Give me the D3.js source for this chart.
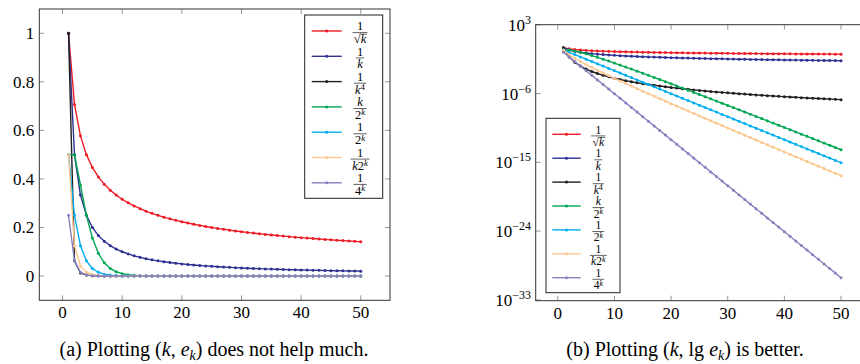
<!DOCTYPE html>
<html>
<head>
<meta charset="utf-8">
<script src="https://cdn.jsdelivr.net/npm/d3@7"></script>
<style>
  body { margin: 0; background: #fff; }
</style>
</head>
<body>
<div id="chart"></div>
<script>
// x values
const kValues = [1,2,3,4,5,6,7,8,9,10,11,12,13,14,15,16,17,18,19,20,21,22,23,24,25,
  26,27,28,29,30,31,32,33,34,35,36,37,38,39,40,41,42,43,44,45,46,47,48,49,50];

// series values
const invSqrtK = [1,0.7071,0.5774,0.5,0.4472,0.4082,0.378,0.3536,0.3333,0.3162,
  0.3015,0.2887,0.2774,0.2673,0.2582,0.25,0.2425,0.2357,0.2294,0.2236,
  0.2182,0.2132,0.2085,0.2041,0.2,0.1961,0.1925,0.189,0.1857,0.1826,
  0.1796,0.1768,0.1741,0.1715,0.169,0.1667,0.1644,0.1622,0.1601,0.1581,
  0.1562,0.1543,0.1525,0.1508,0.1491,0.1474,0.1459,0.1443,0.1429,0.1414];
const invK = [1,0.5,0.3333,0.25,0.2,0.1667,0.1429,0.125,0.1111,0.1,
  0.0909,0.0833,0.0769,0.0714,0.0667,0.0625,0.0588,0.0556,0.0526,0.05,
  0.0476,0.0455,0.0435,0.0417,0.04,0.0385,0.037,0.0357,0.0345,0.0333,
  0.0323,0.0313,0.0303,0.0294,0.0286,0.0278,0.027,0.0263,0.0256,0.025,
  0.0244,0.0238,0.0233,0.0227,0.0222,0.0217,0.0213,0.0208,0.0204,0.02];
const invK4 = [1,0.0625,0.012346,3.906e-3,1.6e-3,7.716e-4,4.165e-4,2.441e-4,1.524e-4,1e-4,
  6.83e-5,4.823e-5,3.501e-5,2.603e-5,1.975e-5,1.526e-5,1.197e-5,9.526e-6,7.673e-6,6.25e-6,
  5.142e-6,4.269e-6,3.573e-6,3.014e-6,2.56e-6,2.188e-6,1.882e-6,1.627e-6,1.414e-6,1.235e-6,
  1.083e-6,9.537e-7,8.432e-7,7.483e-7,6.664e-7,5.954e-7,5.336e-7,4.796e-7,4.323e-7,3.906e-7,
  3.539e-7,3.214e-7,2.925e-7,2.668e-7,2.439e-7,2.233e-7,2.049e-7,1.884e-7,1.735e-7,1.6e-7];
const kOver2K = [0.5,0.5,0.375,0.25,0.15625,0.09375,0.05469,0.03125,0.017578,9.766e-3,
  5.371e-3,2.93e-3,1.587e-3,8.545e-4,4.578e-4,2.441e-4,1.297e-4,6.866e-5,3.624e-5,1.907e-5,
  1.001e-5,5.245e-6,2.742e-6,1.431e-6,7.451e-7,3.874e-7,2.012e-7,1.043e-7,5.402e-8,2.794e-8,
  1.444e-8,7.451e-9,3.842e-9,1.979e-9,1.019e-9,5.239e-10,2.692e-10,1.382e-10,7.094e-11,3.638e-11,
  1.864e-11,9.55e-12,4.889e-12,2.501e-12,1.279e-12,6.537e-13,3.34e-13,1.705e-13,8.704e-14,4.441e-14];
const inv2K = [0.5,0.25,0.125,0.0625,0.03125,0.015625,7.8125e-3,3.906e-3,1.953e-3,9.766e-4,
  4.883e-4,2.441e-4,1.221e-4,6.104e-5,3.052e-5,1.526e-5,7.629e-6,3.815e-6,1.907e-6,9.537e-7,
  4.768e-7,2.384e-7,1.192e-7,5.96e-8,2.98e-8,1.49e-8,7.451e-9,3.725e-9,1.863e-9,9.313e-10,
  4.657e-10,2.328e-10,1.164e-10,5.821e-11,2.91e-11,1.455e-11,7.276e-12,3.638e-12,1.819e-12,9.095e-13,
  4.547e-13,2.274e-13,1.137e-13,5.684e-14,2.842e-14,1.421e-14,7.105e-15,3.553e-15,1.776e-15,8.882e-16];
const invK2K = [0.5,0.125,0.041667,0.015625,6.25e-3,2.604e-3,1.116e-3,4.883e-4,2.17e-4,9.766e-5,
  4.439e-5,2.035e-5,9.39e-6,4.36e-6,2.035e-6,9.537e-7,4.488e-7,2.119e-7,1.004e-7,4.768e-8,
  2.271e-8,1.084e-8,5.183e-9,2.483e-9,1.192e-9,5.731e-10,2.76e-10,1.33e-10,6.423e-11,3.104e-11,
  1.502e-11,7.276e-12,3.527e-12,1.712e-12,8.316e-13,4.043e-13,1.966e-13,9.573e-14,4.664e-14,2.274e-14,
  1.109e-14,5.413e-15,2.644e-15,1.292e-15,6.316e-16,3.089e-16,1.512e-16,7.401e-17,3.625e-17,1.776e-17];
const inv4K = [0.25,0.0625,0.015625,3.906e-3,9.766e-4,2.441e-4,6.104e-5,1.526e-5,3.815e-6,9.537e-7,
  2.384e-7,5.96e-8,1.49e-8,3.725e-9,9.313e-10,2.328e-10,5.821e-11,1.455e-11,3.638e-12,9.095e-13,
  2.274e-13,5.684e-14,1.421e-14,3.553e-15,8.882e-16,2.22e-16,5.551e-17,1.388e-17,3.469e-18,8.674e-19,
  2.168e-19,5.421e-20,1.355e-20,3.388e-21,8.47e-22,2.118e-22,5.294e-23,1.323e-23,3.309e-24,8.272e-25,
  2.068e-25,5.17e-26,1.293e-26,3.231e-27,8.078e-28,2.019e-28,5.049e-29,1.262e-29,3.155e-30,7.889e-31];

const seriesValues = [invSqrtK, invK, invK4, kOver2K, inv2K, invK2K, inv4K];
const seriesColors = ["#ed1c24", "#2e3192", "#231f20", "#00a651", "#00aeef", "#fcc68e", "#8781bd"];

// legend labels: numerator and denominator parts
const labelNum = ["1", "1", "1", "k", "1", "1", "1"];
const labelDen = [
  [{t: "√"}, {t: "k", it: true, over: true}],
  [{t: "k", it: true}],
  [{t: "k", it: true}, {t: "4", sup: true}],
  [{t: "2"}, {t: "k", it: true, sup: true}],
  [{t: "2"}, {t: "k", it: true, sup: true}],
  [{t: "k", it: true}, {t: "2"}, {t: "k", it: true, sup: true}],
  [{t: "4"}, {t: "k", it: true, sup: true}]
];
const numItalic = [false, false, false, true, false, false, false];

// tick labels
const linXTicks = [0, 10, 20, 30, 40, 50];
const linYTicks = [0, 0.2, 0.4, 0.6, 0.8, 1];
const logYExp = [3, -6, -15, -24, -33];

var FONT = "'Liberation Serif', 'DejaVu Serif', 'Noto Serif', 'Times New Roman', Times, serif";

var width = 860, height = 364;
var svg = d3.select("#chart").append("svg")
    .attr("width", width)
    .attr("height", height)
    .attr("font-family", FONT);

function drawPanel(p) {
    var g = svg.append("g");
    var x = p.x, y = p.y;
    var x0 = x.range()[0], x1 = x.range()[1];
    var yb = y.range()[0], yt = y.range()[1];
    var tl = 5;

    // ticks on all four sides
    linXTicks.forEach(function (t) {
        g.append("line").attr("x1", x(t)).attr("x2", x(t)).attr("y1", yb).attr("y2", yb - tl)
            .attr("stroke", "#999").attr("stroke-width", 1);
        g.append("line").attr("x1", x(t)).attr("x2", x(t)).attr("y1", yt).attr("y2", yt + tl)
            .attr("stroke", "#999").attr("stroke-width", 1);
        g.append("text").attr("x", x(t)).attr("y", yb + 18).attr("font-family", FONT)
            .attr("text-anchor", "middle").attr("font-size", 17).text(t);
    });
    p.yTicks.forEach(function (t, i) {
        g.append("line").attr("x1", x0).attr("x2", x0 + tl).attr("y1", y(t)).attr("y2", y(t))
            .attr("stroke", "#999").attr("stroke-width", 1);
        g.append("line").attr("x1", x1).attr("x2", x1 - tl).attr("y1", y(t)).attr("y2", y(t))
            .attr("stroke", "#999").attr("stroke-width", 1);
        var lab = g.append("text").attr("x", x0 - 5).attr("y", y(t) + 6).attr("font-family", FONT)
            .attr("text-anchor", "end").attr("font-size", 17);
        p.yLabel(lab, t, i);
    });

    // series
    seriesValues.forEach(function (vals, si) {
        var pts = kValues.map(function (k, i) { return [k, vals[i]]; });
        var line = d3.line().x(function (d) { return x(d[0]); }).y(function (d) { return y(d[1]); });
        g.append("path").datum(pts).attr("d", line)
            .attr("fill", "none").attr("stroke", seriesColors[si]).attr("stroke-width", 1.4);
        g.selectAll(null).data(pts).enter().append("circle")
            .attr("cx", function (d) { return x(d[0]); })
            .attr("cy", function (d) { return y(d[1]); })
            .attr("r", 1.5).attr("fill", seriesColors[si]);
    });

    // frame
    g.append("rect").attr("x", x0).attr("y", yt).attr("width", x1 - x0).attr("height", yb - yt)
        .attr("fill", "none").attr("stroke", "#333").attr("stroke-width", 1);

    // legend
    var L = p.legend;
    g.append("rect").attr("x", L.x).attr("y", L.y).attr("width", L.w).attr("height", L.h)
        .attr("fill", "#fff").attr("stroke", "#222").attr("stroke-width", 1);
    seriesColors.forEach(function (c, i) {
        var cy = L.y0 + i * L.dy;
        g.append("line").attr("x1", L.lx).attr("x2", L.lx + L.lw).attr("y1", cy).attr("y2", cy)
            .attr("stroke", c).attr("stroke-width", 1.4);
        g.append("circle").attr("cx", L.lx + L.lw / 2).attr("cy", cy).attr("r", 1.5).attr("fill", c);

        var num = g.append("text").attr("x", L.tx).attr("y", cy - 0.8).attr("font-family", FONT)
            .attr("text-anchor", "middle").attr("font-size", L.fs)
            .attr("font-style", numItalic[i] ? "italic" : "normal").text(labelNum[i]);
        var den = g.append("text").attr("x", L.tx).attr("y", cy + L.dd).attr("font-family", FONT)
            .attr("text-anchor", "middle").attr("font-size", L.fs);
        var overT = null;
        labelDen[i].forEach(function (part) {
            var ts = den.append("tspan").text(part.t);
            if (part.it) ts.attr("font-style", "italic");
            if (part.sup) ts.attr("font-size", L.fs * 0.7).attr("dy", -3.5);
            if (part.over) overT = ts;
        });
        var bb = den.node().getBBox();
        var nb = num.node().getBBox();
        var bw = Math.max(bb.width, nb.width) + 2;
        g.append("line").attr("x1", L.tx - bw / 2).attr("x2", L.tx + bw / 2)
            .attr("y1", cy + 1.6).attr("y2", cy + 1.6).attr("stroke", "#222").attr("stroke-width", 0.7);
        if (overT) {
            var ob = overT.node().getBBox();
            g.append("line").attr("x1", ob.x - 0.5).attr("x2", ob.x + ob.width + 0.5)
                .attr("y1", cy + 3.2).attr("y2", cy + 3.2).attr("stroke", "#222").attr("stroke-width", 0.6);
        }
    });
}

// panel (a): linear
var xa = d3.scaleLinear().domain([-3.9, 54.9]).range([39.3, 390]);
var ya = d3.scaleLinear().domain([-0.1, 1.1]).range([300.3, 9]);
drawPanel({
    x: xa, y: ya, yTicks: linYTicks,
    yLabel: function (lab, t) { lab.text(String(t)); },
    legend: {x: 304.7, y: 15, w: 78, h: 183.3, y0: 31, dy: 25.3, lx: 311.7, lw: 30, tx: 360, fs: 12.5, dd: 12}
});

// panel (b): log
var xb = d3.scaleLinear().domain([-3.9, 54.9]).range([535.7, 868.8]);
var yb = d3.scaleLog().domain([Math.pow(10, -33.11), Math.pow(10, 3.01)]).range([300.7, 24.7]);
drawPanel({
    x: xb, y: yb, yTicks: logYExp.map(function (e) { return Math.pow(10, e); }),
    yLabel: function (lab, t, i) {
        lab.attr("x", 531);
        lab.append("tspan").text("10");
        var e = logYExp[i];
        lab.append("tspan").attr("font-size", 12).attr("dy", -7)
            .text((e < 0 ? "−" : "") + Math.abs(e));
    },
    legend: {x: 546, y: 118.3, w: 74, h: 174.4, y0: 134.3, dy: 23.9, lx: 552.3, lw: 28.4, tx: 598.3, fs: 11.5, dd: 11.5}
});

// captions, sized to the reference widths
function caption(x0, x1, parts) {
    var t = svg.append("text").attr("x", (x0 + x1) / 2).attr("y", 356).attr("font-family", FONT)
        .attr("text-anchor", "middle").attr("font-size", 17);
    parts.forEach(function (p) {
        var ts = t.append("tspan").text(p.t);
        if (p.it) ts.attr("font-style", "italic");
        if (p.sub) ts.attr("font-size", 12).attr("dy", 4);
        if (p.up) ts.attr("dy", -4);
    });
    var w = t.node().getBBox().width;
    var s = Math.min(20, 17 * (x1 - x0) / w);
    t.attr("font-size", s);
    t.selectAll("tspan").filter(function () { return this.getAttribute("font-size"); })
        .attr("font-size", s * 0.7);
}
caption(50, 378, [{t: "(a) Plotting ("}, {t: "k", it: true}, {t: ", "}, {t: "e", it: true},
    {t: "k", it: true, sub: true}, {t: ") does not help much.", up: true}]);
caption(538, 832, [{t: "(b) Plotting ("}, {t: "k", it: true}, {t: ", lg "}, {t: "e", it: true},
    {t: "k", it: true, sub: true}, {t: ") is better.", up: true}]);
</script>
</body>
</html>
